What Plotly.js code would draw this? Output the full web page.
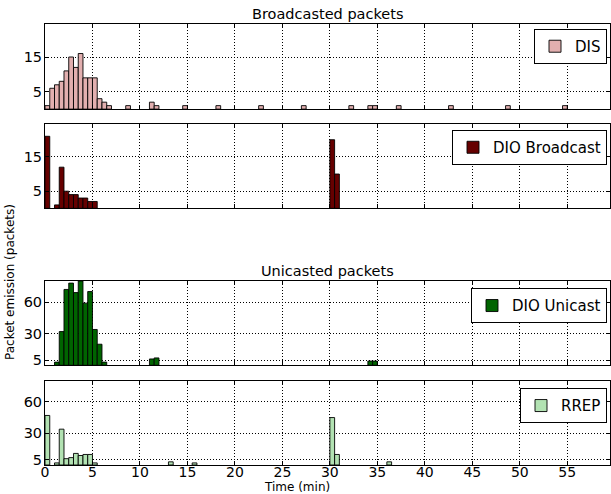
<!DOCTYPE html>
<html>
<head>
<meta charset="utf-8">
<script src="https://cdn.plot.ly/plotly-3.0.1.min.js"></script>
<style>html,body{margin:0;padding:0;background:#fff;}#chart{width:611px;height:494px;}</style>
</head>
<body>
<div id="chart"></div>
<script>
// Bin start times (minutes, bins of 0.5 min) and packet counts per series
const disTime   = [0,0.5,1,1.5,2,2.5,3,3.5,4,4.5,5,5.5,6,6.5,8.5,11,11.5,14.5,18,22.5,27,32,34,34.5,37,42.5,48.5,54.5];
const disCount  = [1,6,7,8,11,15,12,16,9,9,9,3,2,1,1,2,1,1,1,1,1,1,1,1,1,1,1,1];

const dioBTime  = [0,1,1.5,2,2.5,3,3.5,4,4.5,5,30,30.5];
const dioBCount = [21,1,12,5,4,4,3,3,2,2,20,10];

const dioUTime  = [1,1.5,2,2.5,3,3.5,4,4.5,5,5.5,6,11,11.5,34,34.5];
const dioUCount = [3,32,72,78,69,80,59,70,34,20,3,6,7,4,4];

const rrepTime  = [0,1,1.5,2,2.5,3,3.5,4,4.5,5,13,15.5,30,30.5,36];
const rrepCount = [47,2,34,6,7,11,9,10,10,2,3,2,45,10,3];

const binWidth = 0.5;
const xTicks = [0,5,10,15,20,25,30,35,40,45,50,55];
const broadcastTicks = [5,15];
const unicastTicks = [5,30,60];

const seriesNames = ['DIS','DIO Broadcast','DIO Unicast','RREP'];
const seriesColors = ['#e2afaf','#660000','#006400','#b2e2b2'];

const F = 'DejaVu Sans, Liberation Sans, sans-serif';

function barTrace(t, v, i) {
  const ax = i === 0 ? '' : String(i + 1);
  return {
    type: 'bar', x: t, y: v, width: binWidth, offset: 0,
    name: seriesNames[i],
    xaxis: 'x' + ax, yaxis: 'y' + ax,
    legend: i === 0 ? 'legend' : 'legend' + (i + 1),
    marker: {color: seriesColors[i], line: {color: '#000', width: 0.9}},
    showlegend: true
  };
}

const data = [
  barTrace(disTime, disCount, 0),
  barTrace(dioBTime, dioBCount, 1),
  barTrace(dioUTime, dioUCount, 2),
  barTrace(rrepTime, rrepCount, 3)
];

function xAx(showLabels) {
  return {
    range: [0, 59.5], tickvals: xTicks, showticklabels: showLabels,
    ticks: 'inside', ticklen: 4, tickcolor: '#000', mirror: 'ticks',
    showline: true, linecolor: '#000', linewidth: 1,
    showgrid: true, gridcolor: '#000', gridwidth: 1, griddash: '1px,2px',
    zeroline: false, tickfont: {family: F, size: 14, color: '#000'},
    ticklabelstandoff: -6, fixedrange: true
  };
}
function yAx(domain, range, ticks) {
  return {
    domain: domain, range: range, tickvals: ticks,
    ticks: 'inside', ticklen: 4, tickcolor: '#000', mirror: 'ticks',
    showline: true, linecolor: '#000', linewidth: 1,
    showgrid: true, gridcolor: '#000', gridwidth: 1, griddash: '1px,2px',
    zeroline: false, tickfont: {family: F, size: 14.5, color: '#000'},
    ticklabelstandoff: -1
  };
}

function legendAt(y) {
  return {
    x: 0.9947, xanchor: 'right', y: y, yanchor: 'top',
    bgcolor: '#fff', bordercolor: '#000', borderwidth: 1,
    font: {family: F, size: 15, color: '#000'}
  };
}

const layout = {
  width: 611, height: 494,
  margin: {l: 45, r: 1, t: 24, b: 29},
  paper_bgcolor: '#fff', plot_bgcolor: '#fff',
  bargap: 0,
  xaxis:  Object.assign(xAx(false), {anchor: 'y'}),
  xaxis2: Object.assign(xAx(false), {anchor: 'y2', matches: 'x'}),
  xaxis3: Object.assign(xAx(false), {anchor: 'y3', matches: 'x'}),
  xaxis4: Object.assign(xAx(true),  {anchor: 'y4', matches: 'x'}),
  yaxis:  yAx([0.807, 1.0], [0, 24.5], broadcastTicks),
  yaxis2: yAx([0.582, 0.7726], [0, 24.5], broadcastTicks),
  yaxis3: yAx([0.2261, 0.4172], [0, 80], unicastTicks),
  yaxis4: yAx([0, 0.1912], [0, 80], unicastTicks),
  legend:  legendAt(0.9887),
  legend2: legendAt(0.7596),
  legend3: legendAt(0.4007),
  legend4: legendAt(0.1739),
  annotations: [
    {text: 'Broadcasted packets', xref: 'paper', yref: 'paper', x: 0.5, y: 1.0,
     xanchor: 'center', yanchor: 'bottom', yshift: 0, showarrow: false,
     font: {family: F, size: 14.5, color: '#000'}},
    {text: 'Unicasted packets', xref: 'paper', yref: 'paper', x: 0.5, y: 0.4172,
     xanchor: 'center', yanchor: 'bottom', yshift: 0, showarrow: false,
     font: {family: F, size: 14.5, color: '#000'}},
    {text: 'Packet emission (packets)', xref: 'paper', yref: 'paper',
     x: -0.062, y: 0.415, xanchor: 'center', yanchor: 'middle', textangle: -90,
     showarrow: false, font: {family: F, size: 12, color: '#000'}},
    {text: 'Time (min)', xref: 'paper', yref: 'paper', x: 0.446, y: -0.0495,
     xanchor: 'center', yanchor: 'middle', showarrow: false,
     font: {family: F, size: 12, color: '#000'}}
  ]
};

Plotly.newPlot('chart', data, layout, {staticPlot: true, displayModeBar: false});
</script>
</body>
</html>
